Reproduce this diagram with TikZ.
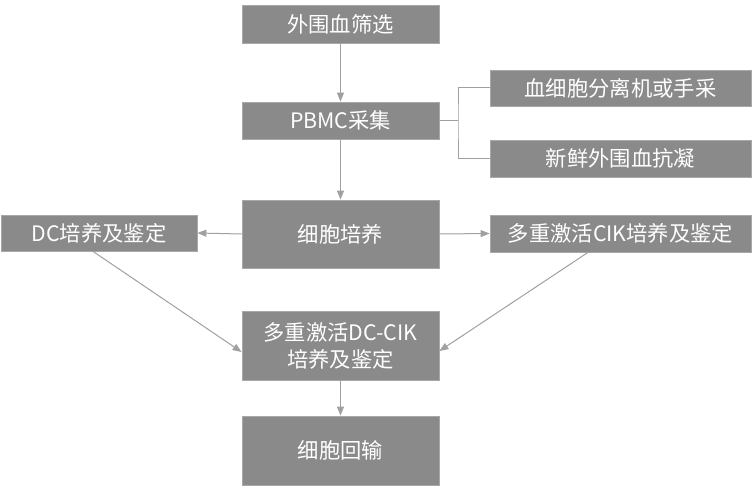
\documentclass[tikz,border=0pt]{standalone}
\usepackage{fontspec}
\newfontfamily\cjk{Noto Sans CJK SC}
\usetikzlibrary{arrows.meta}
\definecolor{boxgray}{HTML}{8A8A8A}
\definecolor{boxedge}{HTML}{A8A8A8}
\definecolor{linegray}{HTML}{A0A0A0}
\begin{document}
\begin{tikzpicture}[x=1pt,y=-1pt,
  box/.style={fill=boxgray,draw=boxedge,line width=0.8pt,text=white,inner sep=0pt,
    font=\cjk\fontsize{21.3}{27}\selectfont,align=center},
  conn/.style={draw=linegray,line width=1pt},
  arr/.style={conn,-{Triangle[length=9pt,width=7pt,fill=linegray]}}]
\useasboundingbox (0,0) rectangle (752,500);
\node[box,minimum width=197pt,minimum height=38pt] (b1) at (340.5,24) {外围血筛选};
\node[box,minimum width=197pt,minimum height=37pt] (b2) at (340.5,120.5) {PBMC采集};
\node[box,minimum width=261pt,minimum height=36pt] (r1) at (620.5,88) {血细胞分离机或手采};
\node[box,minimum width=261pt,minimum height=37pt] (r2) at (620.5,158.5) {新鲜外围血抗凝};
\node[box,minimum width=197pt,minimum height=68pt] (b3) at (340.5,234) {细胞培养};
\node[box,minimum width=196pt,minimum height=36pt] (dc) at (99,233) {DC培养及鉴定};
\node[box,minimum width=261pt,minimum height=37pt] (cik) at (620.5,233.5) {多重激活CIK培养及鉴定};
\node[box,minimum width=197pt,minimum height=69pt] (b4) at (340.5,345.5) {多重激活DC-CIK\\培养及鉴定};
\node[box,minimum width=197pt,minimum height=69pt] (b5) at (340.5,450.5) {细胞回输};
\coordinate (j) at (458,120.5);
\draw[arr] (b1.south) -- (b2.north);
\draw[arr] (b2.south) -- (b3.north);
\draw[arr] (b3.west) -- (dc.east);
\draw[arr] (b3.east) -- (cik.west);
\draw[arr] (b4.south) -- (b5.north);
\draw[conn] (b2.east) -- (j);
\draw[conn] (r1.west) -| (j) |- (r2.west);
\draw[arr] ([xshift=-6pt]dc.south) -- ([yshift=-6.5pt]b4.west);
\draw[arr] ([xshift=-32.5pt]cik.south) -- ([yshift=-5.5pt]b4.east);
\end{tikzpicture}
\end{document}
